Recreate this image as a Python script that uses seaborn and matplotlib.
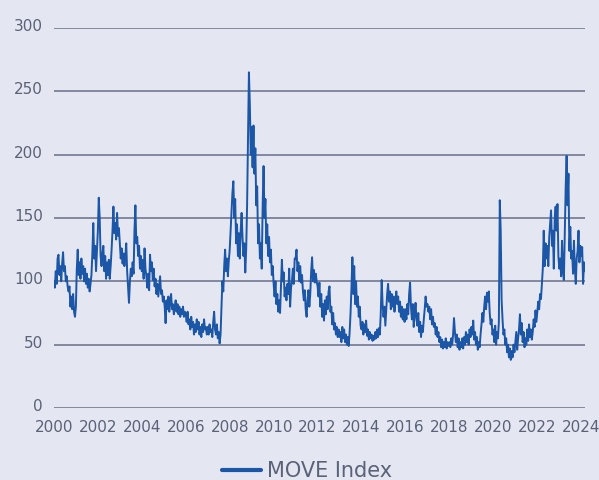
import numpy as np
import pandas as pd
import matplotlib
matplotlib.use("Agg")
import matplotlib.pyplot as plt
import matplotlib.transforms as mtransforms
import seaborn as sns

# Semi-monthly readings of the MOVE Index (24 values per year)
v2000 = [100, 95, 108, 98, 118, 121, 105, 112, 100, 114, 123, 108, 112, 100, 104, 96, 92, 96, 80, 88, 78, 90, 76, 72]
v2001 = [80, 110, 125, 105, 115, 102, 118, 106, 112, 100, 110, 98, 106, 95, 102, 92, 98, 105, 122, 146, 118, 128, 108, 124]
v2002 = [140, 166, 150, 120, 112, 122, 128, 108, 120, 102, 115, 105, 117, 102, 112, 125, 140, 159, 138, 146, 133, 154, 136, 142]
v2003 = [130, 118, 126, 114, 122, 112, 120, 130, 108, 95, 83, 100, 110, 104, 115, 106, 140, 160, 130, 135, 120, 128, 110, 120]
v2004 = [108, 117, 102, 126, 110, 104, 95, 106, 93, 121, 108, 115, 101, 110, 96, 102, 90, 98, 88, 96, 104, 90, 93, 84]
v2005 = [88, 80, 67, 85, 78, 88, 76, 84, 90, 78, 82, 74, 80, 85, 76, 82, 74, 80, 72, 78, 74, 80, 72, 76]
v2006 = [74, 68, 76, 66, 70, 62, 72, 64, 68, 58, 66, 60, 70, 62, 68, 58, 64, 56, 66, 60, 70, 62, 64, 58]
v2007 = [64, 58, 66, 60, 62, 56, 68, 76, 62, 58, 66, 55, 60, 51, 58, 80, 100, 92, 112, 125, 108, 118, 104, 116]
v2008 = [125, 140, 155, 170, 179, 150, 165, 130, 145, 120, 138, 118, 140, 154, 135, 120, 130, 107, 125, 160, 210, 265, 240, 200]
v2009 = [222, 190, 223, 185, 205, 160, 175, 130, 145, 118, 130, 110, 160, 191, 150, 165, 130, 145, 120, 135, 115, 125, 105, 112]
v2010 = [98, 88, 100, 82, 90, 76, 85, 75, 95, 117, 100, 107, 88, 95, 85, 98, 90, 110, 80, 95, 100, 110, 98, 118]
v2011 = [118, 125, 108, 115, 100, 112, 99, 105, 92, 85, 93, 78, 72, 85, 93, 80, 90, 108, 119, 100, 109, 99, 106, 100]
v2012 = [96, 88, 99, 80, 90, 72, 82, 69, 85, 74, 88, 78, 92, 96, 76, 80, 66, 75, 62, 67, 58, 64, 56, 62]
v2013 = [56, 60, 52, 64, 55, 62, 52, 58, 50, 56, 49, 60, 75, 95, 119, 90, 112, 82, 100, 80, 88, 72, 80, 65]
v2014 = [62, 68, 58, 66, 60, 69, 57, 62, 54, 60, 55, 58, 53, 57, 54, 60, 55, 62, 56, 63, 58, 75, 101, 82]
v2015 = [72, 80, 65, 78, 90, 98, 84, 92, 78, 90, 80, 88, 76, 85, 92, 82, 88, 76, 84, 72, 80, 70, 78, 68]
v2016 = [78, 70, 82, 74, 90, 99, 80, 70, 82, 64, 75, 83, 70, 65, 75, 60, 68, 56, 65, 60, 70, 78, 88, 80]
v2017 = [82, 76, 80, 70, 78, 66, 72, 64, 67, 58, 64, 56, 60, 52, 56, 48, 54, 47, 52, 48, 55, 47, 52, 49]
v2018 = [52, 48, 55, 50, 58, 71, 60, 52, 58, 48, 55, 46, 52, 48, 55, 47, 56, 50, 60, 52, 58, 50, 62, 56]
v2019 = [64, 58, 69, 54, 60, 50, 56, 46, 52, 48, 58, 66, 75, 68, 80, 88, 78, 91, 84, 92, 75, 66, 70, 58]
v2020 = [62, 52, 65, 50, 60, 55, 68, 164, 140, 85, 70, 58, 62, 50, 55, 44, 50, 40, 47, 38, 45, 40, 50, 44]
v2021 = [52, 60, 46, 55, 62, 74, 58, 67, 52, 60, 48, 55, 50, 62, 53, 66, 56, 62, 54, 60, 70, 64, 77, 68]
v2022 = [76, 84, 78, 90, 86, 98, 110, 140, 112, 130, 118, 128, 112, 135, 145, 156, 128, 140, 110, 150, 159, 140, 161, 120]
v2023 = [110, 118, 104, 132, 108, 101, 140, 175, 199, 160, 185, 124, 143, 118, 124, 106, 132, 110, 98, 118, 124, 140, 115, 128]
v2024 = [120, 127, 98, 115, 108]

year_blocks = [v2000, v2001, v2002, v2003, v2004, v2005, v2006, v2007, v2008, v2009,
               v2010, v2011, v2012, v2013, v2014, v2015, v2016, v2017, v2018, v2019,
               v2020, v2021, v2022, v2023, v2024]
start_year = 2000
x_ticks = list(range(2000, 2025, 2))
y_ticks = [0, 50, 100, 150, 200, 250, 300]
series_name = "MOVE Index"

t, v = [], []
for k, block in enumerate(year_blocks):
    for i, val in enumerate(block):
        t.append(start_year + k + i / 24.0)
        v.append(val)
df = pd.DataFrame({"date": t, "value": v, "series": series_name})

BG = "#E4E6F2"
LINE = "#1C56A6"
GRID = "#707891"
TXT = "#5A6277"

sns.set_theme(style="white")
plt.rcParams["font.family"] = ["DejaVu Sans"]

fig = plt.figure(figsize=(5.99, 4.80), dpi=100, facecolor=BG)
ax = fig.add_axes([0.090, 0.15, 0.887, 0.7917])
ax.set_facecolor(BG)

sns.lineplot(data=df, x="date", y="value", hue="series", palette=[LINE],
             linewidth=1.4, ax=ax, legend=True)

ax.set_xlim(2000, 2024.18)
ax.set_ylim(0, 300)
ax.set_xticks(x_ticks)
ax.set_xticklabels([str(x) for x in x_ticks])
ax.set_yticks(y_ticks)
ax.set_yticklabels([str(y) for y in y_ticks])
ax.set_xlabel("")
ax.set_ylabel("")
for s in ax.spines.values():
    s.set_visible(False)
ax.yaxis.grid(True, color=GRID, linewidth=1.2)
ax.xaxis.grid(False)
ax.set_axisbelow(True)
ax.tick_params(axis="both", length=0, colors=TXT, labelsize=11)
ax.tick_params(axis="y", pad=8)
ax.tick_params(axis="x", pad=9)

off = mtransforms.ScaledTranslation(0, 3 / 100, fig.dpi_scale_trans)
for lbl in ax.get_yticklabels():
    lbl.set_transform(lbl.get_transform() + off)

h, l = ax.get_legend_handles_labels()
ax.get_legend().remove()
for hh in h:
    hh.set_linewidth(3)
leg = fig.legend(h, l, loc="center", bbox_to_anchor=(0.513, 0.018), frameon=False,
                 fontsize=15, handlelength=1.85, handletextpad=0.3, labelcolor=TXT)

fig.savefig("out.png", dpi=100, facecolor=BG)
